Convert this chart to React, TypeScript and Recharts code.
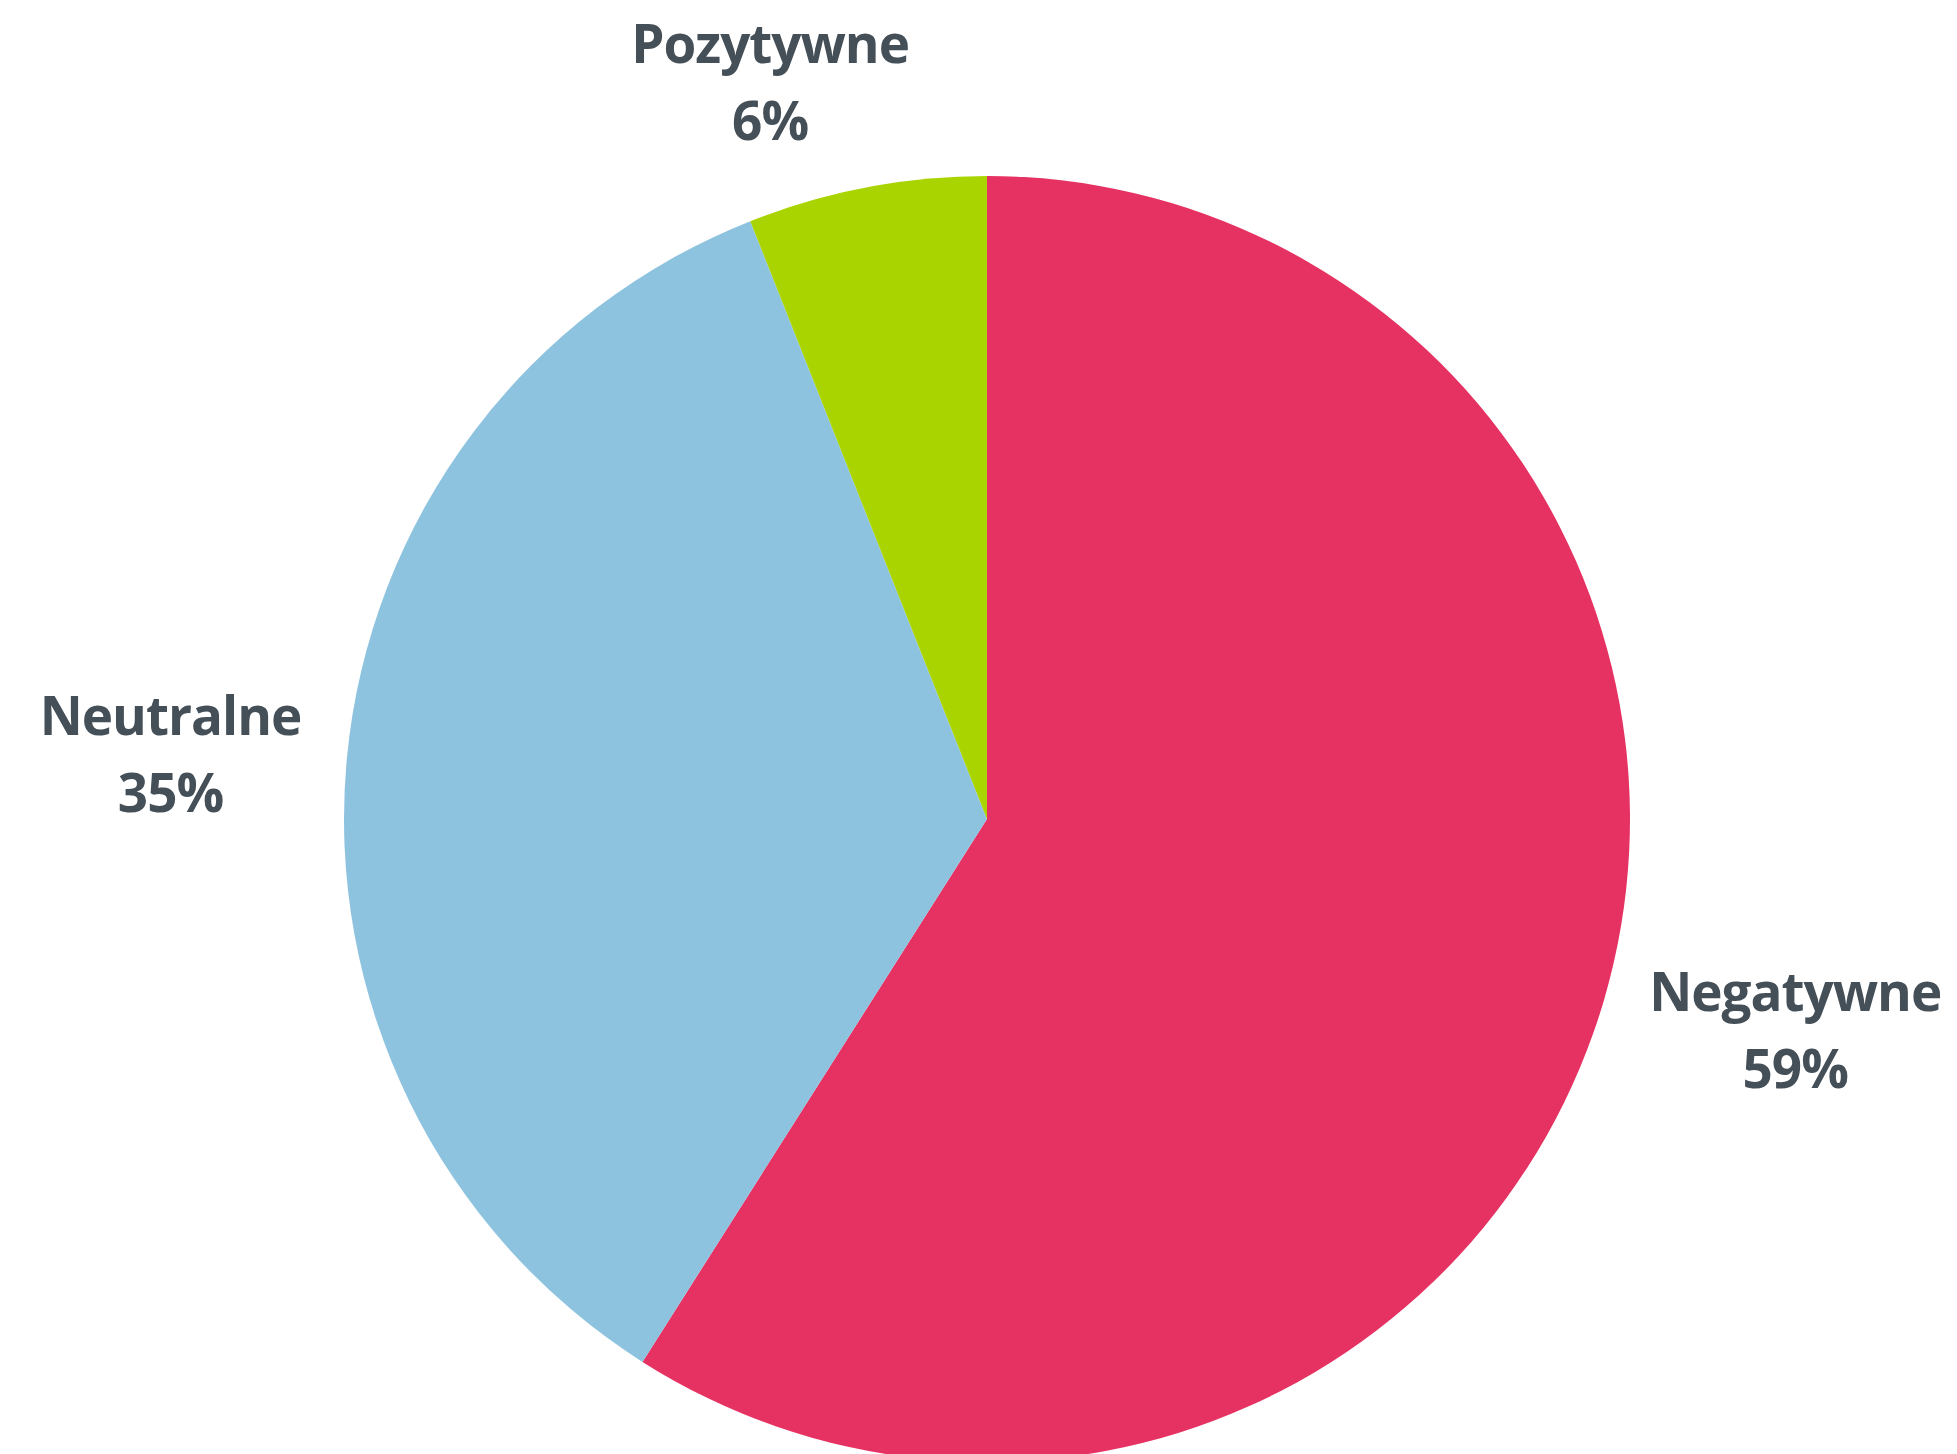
import React from 'react';
import { PieChart, Pie, Cell } from 'recharts';

const categories = ['Negatywne', 'Neutralne', 'Pozytywne'];
const shares = [59, 35, 6];
const colors = ['#E63262', '#8EC3DF', '#AAD400'];

const data = categories.map((name, i) => ({ name, value: shares[i] }));

// Excel nudged labels a bit off the radial line
const labelNudge: Record<string, [number, number]> = {
  Negatywne: [40, -13],
  Neutralne: [-20, 10],
  Pozytywne: [-67, 48],
};

const RAD = Math.PI / 180;

function renderLabel(props: any) {
  const { cx, cy, midAngle, outerRadius, name, value } = props;
  const r = outerRadius + 157;
  const [nx, ny] = labelNudge[name] || [0, 0];
  const x = cx + r * Math.cos(-midAngle * RAD) + nx;
  const y = cy + r * Math.sin(-midAngle * RAD) + ny - 18.5;
  return (
    <text
      x={x}
      y={y}
      textAnchor="middle"
      fill="#444F58"
      fontFamily="'Open Sans', 'Noto Sans', sans-serif"
      fontWeight={700}
      fontSize={53}
      letterSpacing={-1}
    >
      <tspan x={x} dy={0}>{name}</tspan>
      <tspan x={x} dy={77}>{value}%</tspan>
    </text>
  );
}

export default function App() {
  return (
    <div style={{ position: 'absolute', left: 0, top: 0, width: 1957, height: 1454, background: '#fff' }}>
      <PieChart width={1957} height={1454} margin={{ top: 0, right: 0, bottom: 0, left: 0 }}>
        <Pie
          data={data}
          dataKey="value"
          nameKey="name"
          cx={987}
          cy={819}
          outerRadius={643}
          startAngle={90}
          endAngle={-270}
          label={renderLabel}
          labelLine={false}
          isAnimationActive={false}
        >
          {data.map((d, i) => (
            <Cell key={d.name} fill={colors[i]} stroke="none" />
          ))}
        </Pie>
      </PieChart>
    </div>
  );
}
